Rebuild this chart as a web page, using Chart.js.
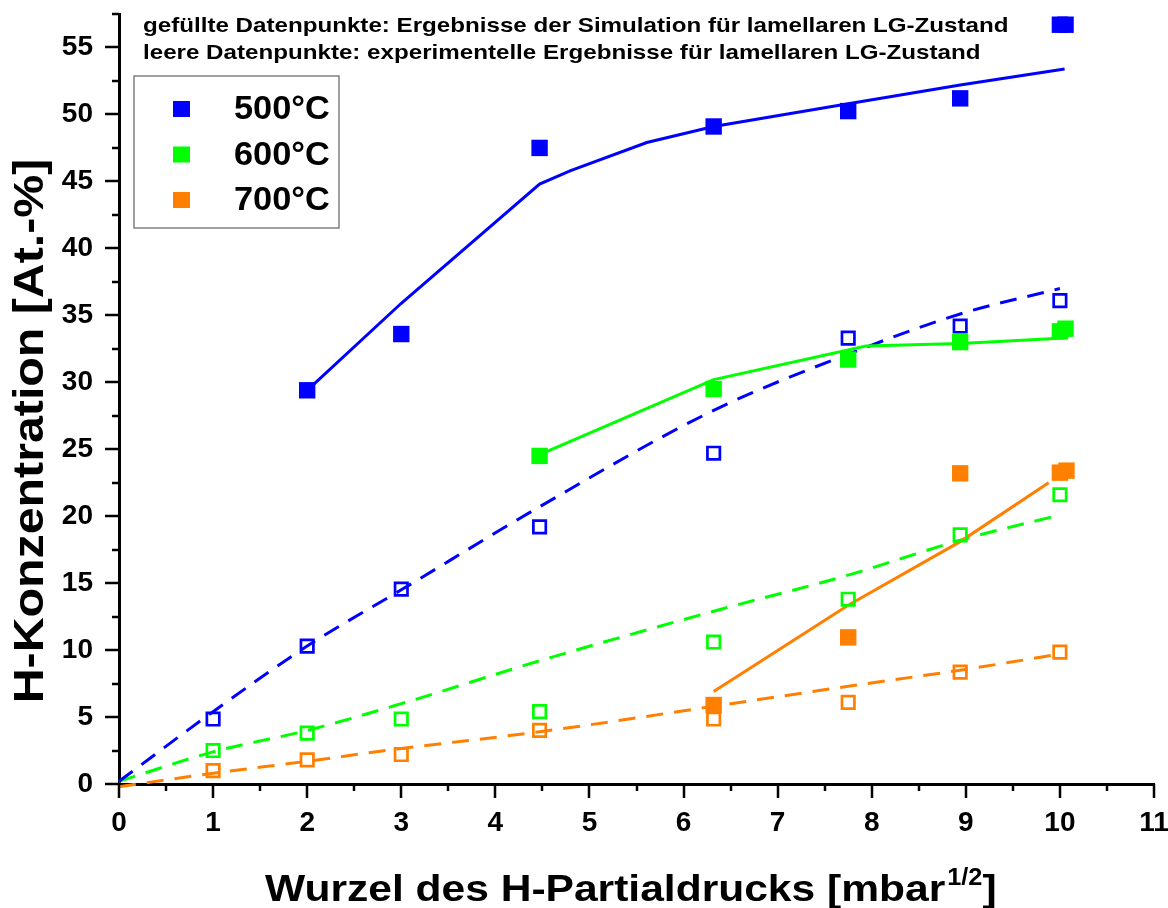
<!DOCTYPE html>
<html>
<head>
<meta charset="utf-8">
<script src="https://cdn.jsdelivr.net/npm/chart.js@4.4.1/dist/chart.umd.min.js"></script>
<style>
  html, body { margin: 0; padding: 0; background: #fff; }
  canvas { display: block; }
</style>
</head>
<body>
<canvas id="chart" width="1168" height="908"></canvas>
<script>
// Square root of the H partial pressure [mbar^1/2]
const simX500 = [2, 3, 4.47, 6.32, 7.75, 8.94, 10, 10.06];
const simX600 = [4.47, 6.32, 7.75, 8.94, 10, 10.06];
const simX700 = [6.32, 7.75, 8.94, 10, 10.07];
const expX = [1, 2, 3, 4.47, 6.32, 7.75, 8.94, 10];

// Simulation results (filled squares), H concentration [At.-%]
const sim500 = [29.4, 33.6, 47.5, 49.1, 50.25, 51.2, 56.7, 56.7];
const sim600 = [24.5, 29.5, 31.7, 33.0, 33.8, 34.0];
const sim700 = [5.9, 10.95, 23.2, 23.25, 23.4];

// Experimental results (open squares)
const exp500 = [4.85, 10.3, 14.55, 19.2, 24.7, 33.3, 34.2, 36.1];
const exp600 = [2.5, 3.8, 4.85, 5.4, 10.6, 13.8, 18.6, 21.6];
const exp700 = [1.0, 1.8, 2.2, 4.0, 4.85, 6.1, 8.35, 9.85];

// Curves through the simulation results (solid)
const simCurveX500 = [2, 3, 4.47, 4.8, 5.61, 6.32, 7.75, 8.94, 10.05];
const simCurve500 = [29.4, 35.9, 44.8, 45.8, 47.9, 49.1, 50.8, 52.2, 53.4];
const simCurveX600 = [4.47, 6.32, 7.94, 8.94, 10.05];
const simCurve600 = [24.6, 30.2, 32.7, 32.9, 33.3];
const simCurveX700 = [6.32, 7.75, 8.94, 9.88];
const simCurve700 = [6.9, 13.35, 18.1, 22.5];

// Curves through the experimental results (dashed)
const expCurveX = [0, 1, 2, 3, 4.47, 6.32, 7.75, 8.94, 10];
const expCurve500 = [0.2, 5.4, 10.3, 14.5, 20.7, 27.9, 32.1, 35.1, 37.0];
const expCurve600 = [0.2, 2.4, 4.0, 6.0, 9.2, 12.9, 15.6, 18.2, 20.1];
const expCurve700 = [-0.2, 0.8, 1.7, 2.65, 3.9, 5.8, 7.3, 8.5, 9.7];

const seriesLabels = ['500°C', '600°C', '700°C'];
const xTicks = [0, 1, 2, 3, 4, 5, 6, 7, 8, 9, 10, 11];
const yTicks = [0, 5, 10, 15, 20, 25, 30, 35, 40, 45, 50, 55];

const noteLines = [
  'gefüllte Datenpunkte: Ergebnisse der Simulation für lamellaren LG-Zustand',
  'leere Datenpunkte: experimentelle Ergebnisse für lamellaren LG-Zustand'
];
const xTitle = 'Wurzel des H-Partialdrucks [mbar';
const xTitleSup = '1/2';
const yTitle = 'H-Konzentration [At.-%]';

const BLUE = '#0000ff', GREEN = '#00ff00', ORANGE = '#ff8000';
const FONT = '"Liberation Sans", Arial, Helvetica, sans-serif';

function pts(xs, ys) { return xs.map((x, i) => ({ x, y: ys[i] })); }

function markers(label, xs, ys, color, filled) {
  return {
    label, data: pts(xs, ys), showLine: false, pointStyle: 'rect',
    pointRadius: filled ? 11.6 : 8.8,
    pointBackgroundColor: filled ? color : 'rgba(0,0,0,0)',
    pointBorderColor: color,
    pointBorderWidth: filled ? 0 : 2.7,
    clip: false, order: 1, filledMarker: filled
  };
}
function curve(label, xs, ys, color, dashed) {
  return {
    label, data: pts(xs, ys), showLine: true, borderColor: color, borderWidth: 3,
    borderDash: dashed ? [17, 11] : [], pointRadius: 0, fill: false,
    cubicInterpolationMode: dashed ? 'monotone' : 'default', tension: 0,
    clip: false, order: 2
  };
}

const datasets = [
  markers(seriesLabels[0], simX500, sim500, BLUE, true),
  markers(seriesLabels[1], simX600, sim600, GREEN, true),
  markers(seriesLabels[2], simX700, sim700, ORANGE, true),
  markers(seriesLabels[0] + ' exp.', expX, exp500, BLUE, false),
  markers(seriesLabels[1] + ' exp.', expX, exp600, GREEN, false),
  markers(seriesLabels[2] + ' exp.', expX, exp700, ORANGE, false),
  curve(seriesLabels[0] + ' Sim.-Kurve', simCurveX500, simCurve500, BLUE, false),
  curve(seriesLabels[1] + ' Sim.-Kurve', simCurveX600, simCurve600, GREEN, false),
  curve(seriesLabels[2] + ' Sim.-Kurve', simCurveX700, simCurve700, ORANGE, false),
  curve(seriesLabels[0] + ' Exp.-Kurve', expCurveX, expCurve500, BLUE, true),
  curve(seriesLabels[1] + ' Exp.-Kurve', expCurveX, expCurve600, GREEN, true),
  curve(seriesLabels[2] + ' Exp.-Kurve', expCurveX, expCurve700, ORANGE, true)
];

// text drawn with a horizontal stretch factor
function stretchedText(ctx, text, x, y, font, sx, align) {
  ctx.save();
  ctx.font = font;
  const w = ctx.measureText(text).width * sx;
  let left = x;
  if (align === 'center') left = x - w / 2;
  ctx.translate(left, y);
  ctx.scale(sx, 1);
  ctx.textAlign = 'left';
  ctx.fillText(text, 0, 0);
  ctx.restore();
  return w;
}

const decor = {
  id: 'decor',
  afterDraw(chart) {
    const ctx = chart.ctx;
    const xs = chart.scales.x, ys = chart.scales.y;
    const area = chart.chartArea;

    // major and minor tick marks, pointing outwards
    ctx.save();
    ctx.strokeStyle = '#000';
    ctx.lineWidth = 2.5;
    ctx.beginPath();
    for (let v = xs.min; v <= xs.max + 1e-9; v += 0.5) {
      const px = Math.round(xs.getPixelForValue(v));
      const len = Math.abs(v - Math.round(v)) < 1e-9 ? 14 : 7;
      ctx.moveTo(px, area.bottom);
      ctx.lineTo(px, area.bottom + len);
    }
    for (let v = ys.min; v <= ys.max + 1e-9; v += 2.5) {
      const py = Math.round(ys.getPixelForValue(v));
      const len = Math.abs(v / 5 - Math.round(v / 5)) < 1e-9 ? 14 : 7;
      ctx.moveTo(area.left, py);
      ctx.lineTo(area.left - len, py);
    }
    ctx.stroke();
    ctx.restore();

    // notes above the data
    ctx.save();
    ctx.fillStyle = '#000';
    ctx.textBaseline = 'alphabetic';
    stretchedText(ctx, noteLines[0], 143, 32, 'bold 21px ' + FONT, 1.15, 'left');
    stretchedText(ctx, noteLines[1], 143, 59, 'bold 21px ' + FONT, 1.15, 'left');
    ctx.restore();

    // legend box with the simulation marker styles
    ctx.save();
    ctx.fillStyle = '#fff';
    ctx.fillRect(134, 76, 205, 152);
    ctx.strokeStyle = '#808080';
    ctx.lineWidth = 1.5;
    ctx.strokeRect(134, 76, 205, 152);
    const filledSets = chart.data.datasets.filter(d => d.filledMarker);
    filledSets.forEach((d, i) => {
      const cy = 109 + i * 45.5;
      ctx.fillStyle = d.pointBackgroundColor;
      ctx.fillRect(173, cy - 8, 17, 16);
      ctx.fillStyle = '#000';
      ctx.textBaseline = 'middle';
      stretchedText(ctx, d.label, 234, cy + 1, 'bold 33px ' + FONT, 1.04, 'left');
    });
    ctx.restore();

    // axis titles
    ctx.save();
    ctx.fillStyle = '#000';
    ctx.textBaseline = 'alphabetic';
    const xFont = 'bold 37px ' + FONT;
    let cx = 265;
    cx += stretchedText(ctx, xTitle, cx, 901, xFont, 1.15, 'left');
    cx += 2;
    cx += stretchedText(ctx, xTitleSup, cx, 885, 'bold 23px ' + FONT, 1.1, 'left');
    stretchedText(ctx, ']', cx, 901, xFont, 1.15, 'left');

    ctx.translate(43, 431);
    ctx.rotate(-Math.PI / 2);
    stretchedText(ctx, yTitle, 0, 0, 'bold 42px ' + FONT, 1.15, 'center');
    ctx.restore();
  }
};

new Chart(document.getElementById('chart'), {
  type: 'scatter',
  data: { datasets },
  options: {
    responsive: false,
    animation: false,
    devicePixelRatio: 1,
    layout: { padding: { left: 0, top: 14, right: 14, bottom: 0 } },
    plugins: { legend: { display: false }, tooltip: { enabled: false } },
    events: [],
    scales: {
      x: {
        type: 'linear', min: 0, max: 11,
        afterBuildTicks: s => { s.ticks = xTicks.map(v => ({ value: v })); },
        afterFit: s => { s.height = 124; s.paddingLeft = 0; s.paddingRight = 0; },
        grid: { display: false, drawTicks: false },
        border: { display: true, color: '#000', width: 3 },
        ticks: {
          color: '#000', padding: 22, maxRotation: 0, autoSkip: false,
          font: { family: FONT, size: 28, weight: 'bold' }
        }
      },
      y: {
        type: 'linear', min: 0, max: 57.5,
        afterBuildTicks: s => { s.ticks = yTicks.map(v => ({ value: v })); },
        afterFit: s => { s.width = 119; s.paddingTop = 0; s.paddingBottom = 0; },
        grid: { display: false, drawTicks: false },
        border: { display: true, color: '#000', width: 3 },
        ticks: {
          color: '#000', padding: 26,
          font: { family: FONT, size: 28, weight: 'bold' }
        }
      }
    }
  },
  plugins: [decor]
});
</script>
</body>
</html>
